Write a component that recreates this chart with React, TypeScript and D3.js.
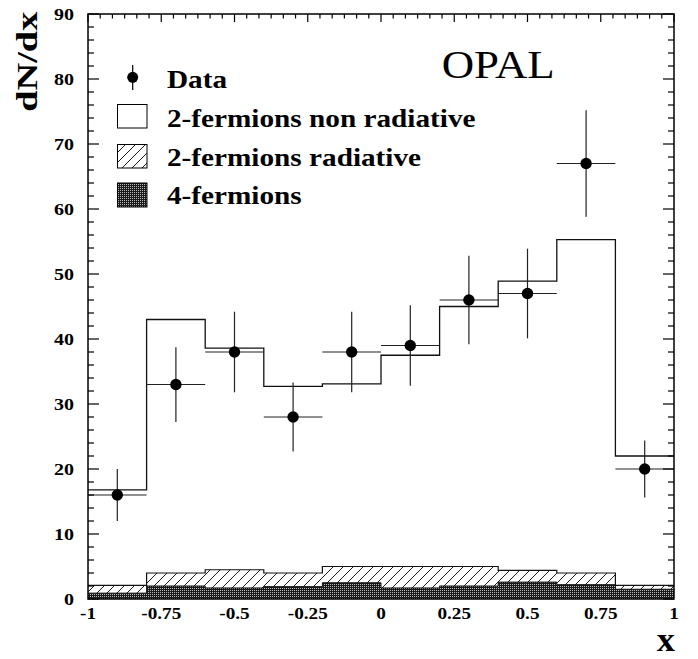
import React from "react";
import * as d3 from "d3";

// ---- data ----
const binCenters = [-0.9, -0.7, -0.5, -0.3, -0.1, 0.1, 0.3, 0.5, 0.7, 0.9];
const binHalfWidth = 0.1;
const dataValues = [16, 33, 38, 28, 38, 39, 46, 47, 67, 20];
const dataErrors = [4.0, 5.75, 6.2, 5.3, 6.2, 6.2, 6.8, 6.9, 8.2, 4.4];
// stacked totals (2f non-rad + 2f rad + 4f)
const totalMC = [16.8, 43.0, 38.6, 32.7, 33.1, 37.5, 45.0, 48.9, 55.3, 22.0];
// 2f rad + 4f
const radPlus4f = [2.1, 4.0, 4.5, 4.0, 5.0, 5.0, 5.0, 4.4, 4.0, 2.1];
// 4f only
const fourF = [0.9, 2.0, 1.7, 1.9, 2.5, 1.7, 2.0, 2.6, 2.2, 1.5];

const xTickValues = [-1, -0.75, -0.5, -0.25, 0, 0.25, 0.5, 0.75, 1];
const xTickLabels = ["-1", "-0.75", "-0.5", "-0.25", "0", "0.25", "0.5", "0.75", "1"];
const yTickValues = [0, 10, 20, 30, 40, 50, 60, 70, 80, 90];
const yTickLabels = ["0", "10", "20", "30", "40", "50", "60", "70", "80", "90"];

const legendLabels = ["Data", "2-fermions non radiative", "2-fermions radiative", "4-fermions"];

const W = 698;
const H = 659;
const L = 88, R = 674, T = 14, B = 599;

const FONT = "'Liberation Serif', 'Times New Roman', serif";

export default function App() {
  const x = d3.scaleLinear().domain([-1, 1]).range([L, R]);
  const y = d3.scaleLinear().domain([0, 90]).range([B, T]);

  const stepPts = (vals: number[]) => {
    const pts = vals.map((v, i) => ({ e: binCenters[i] - binHalfWidth, v }));
    pts.push({ e: binCenters[binCenters.length - 1] + binHalfWidth, v: vals[vals.length - 1] });
    return pts;
  };
  const stepArea = (vals: number[]) =>
    d3
      .area<{ e: number; v: number }>()
      .curve(d3.curveStepAfter)
      .x((d) => x(d.e))
      .y0(y(0))
      .y1((d) => y(d.v))(stepPts(vals)) as string;
  const stepLine = (vals: number[]) =>
    d3
      .line<{ e: number; v: number }>()
      .curve(d3.curveStepAfter)
      .x((d) => x(d.e))
      .y((d) => y(d.v))(stepPts(vals)) as string;

  // minor ticks
  const xMinor = d3.range(0, 49).map((i) => -1 + i * (2 / 48));
  const yMinor = d3.range(0, 46).map((i) => i * 2);

  const legendRows = [88.3, 127.3, 165.7, 204];

  return (
    <svg
      width={W}
      height={H}
      style={{ position: "absolute", left: 0, top: 0, background: "#fff" }}
      xmlns="http://www.w3.org/2000/svg"
    >
      <defs>
        <pattern id="hatch" patternUnits="userSpaceOnUse" width="10" height="10">
          <rect width="10" height="10" fill="#fff" />
          <path d="M-1,11 L11,-1 M-6,6 L6,-6 M4,16 L16,4" stroke="#000" strokeWidth="0.9" />
        </pattern>
        <pattern id="dots" patternUnits="userSpaceOnUse" width="2" height="2">
          <rect width="2" height="2" fill="#1a1a1a" />
          <rect x="0" y="0" width="1" height="1" fill="#bbb" />
        </pattern>
      </defs>

      {/* histograms */}
      <path d={stepArea(totalMC)} fill="#fff" />
      <path d={stepLine(totalMC)} fill="none" stroke="#111" strokeWidth={1.3} />
      <path d={stepArea(radPlus4f)} fill="url(#hatch)" />
      <path d={stepLine(radPlus4f)} fill="none" stroke="#111" strokeWidth={1.2} />
      <path d={stepArea(fourF)} fill="url(#dots)" />
      <path d={stepLine(fourF)} fill="none" stroke="#111" strokeWidth={1} />

      {/* data points */}
      {binCenters.map((c, i) => (
        <g key={i}>
          <line x1={x(c - binHalfWidth)} x2={x(c + binHalfWidth)} y1={y(dataValues[i])} y2={y(dataValues[i])} stroke="#222" strokeWidth={1.2} />
          <line x1={x(c)} x2={x(c)} y1={y(dataValues[i] - dataErrors[i])} y2={y(dataValues[i] + dataErrors[i])} stroke="#222" strokeWidth={1.2} />
          <circle cx={x(c)} cy={y(dataValues[i])} r={5.7} fill="#000" />
        </g>
      ))}

      {/* frame */}
      <rect x={L} y={T} width={R - L} height={B - T} fill="none" stroke="#000" strokeWidth={1.5} />

      {/* left & right ticks */}
      {yMinor.map((v) => {
        const major = v % 10 === 0;
        const len = major ? 11 : 6;
        return (
          <g key={"y" + v}>
            <line x1={L} x2={L + len} y1={y(v)} y2={y(v)} stroke="#000" strokeWidth={1.2} />
            <line x1={R} x2={R - len} y1={y(v)} y2={y(v)} stroke="#000" strokeWidth={1.2} />
          </g>
        );
      })}
      {/* top ticks */}
      {xMinor.map((v, i) => {
        const major = i % 6 === 0;
        const len = major ? 8 : 4.5;
        return <line key={"xt" + i} x1={x(v)} x2={x(v)} y1={T} y2={T + len} stroke="#000" strokeWidth={1.2} />;
      })}

      {/* tick labels */}
      {yTickValues.map((v, i) => (
        <text
          key={"yl" + v}
          transform={`translate(74,${y(v) + 5.5}) scale(1.25,1)`}
          textAnchor="end"
          fontFamily={FONT}
          fontWeight="bold"
          fontSize={16}
        >
          {yTickLabels[i]}
        </text>
      ))}
      {xTickValues.map((v, i) => (
        <text
          key={"xl" + v}
          transform={`translate(${x(v)},619) scale(1.2,1)`}
          textAnchor="middle"
          fontFamily={FONT}
          fontWeight="bold"
          fontSize={16}
        >
          {xTickLabels[i]}
        </text>
      ))}

      {/* axis titles */}
      <text
        transform="translate(37,111.7) rotate(-90)"
        fontFamily={FONT}
        fontWeight="bold"
        fontSize={30}
        textLength={100}
        lengthAdjust="spacingAndGlyphs"
      >
        dN/dx
      </text>
      <text
        transform="translate(675,651) scale(1.1,1)"
        textAnchor="end"
        fontFamily={FONT}
        fontWeight="bold"
        fontSize={33}
      >
        x
      </text>

      {/* OPAL */}
      <text
        x={441.7}
        y={78.3}
        fontFamily={FONT}
        fontSize={39}
        textLength={113}
        lengthAdjust="spacingAndGlyphs"
      >
        OPAL
      </text>

      {/* legend */}
      <line x1={132.7} x2={132.7} y1={65} y2={90} stroke="#000" strokeWidth={1.2} />
      <circle cx={132.7} cy={77.3} r={5.5} fill="#000" />
      <rect x={117.5} y={104.5} width={29.5} height={23.5} fill="#fff" stroke="#000" strokeWidth={1} />
      <rect x={117.5} y={144.5} width={29.5} height={23.5} fill="url(#hatch)" stroke="#000" strokeWidth={1} />
      <rect x={117.5} y={183} width={29.5} height={24} fill="url(#dots)" stroke="#000" strokeWidth={1} />
      {legendLabels.map((t, i) => (
        <text
          key={t}
          transform={`translate(167,${legendRows[i]}) scale(1.17,1)`}
          fontFamily={FONT}
          fontWeight="bold"
          fontSize={25}
        >
          {t}
        </text>
      ))}
    </svg>
  );
}
